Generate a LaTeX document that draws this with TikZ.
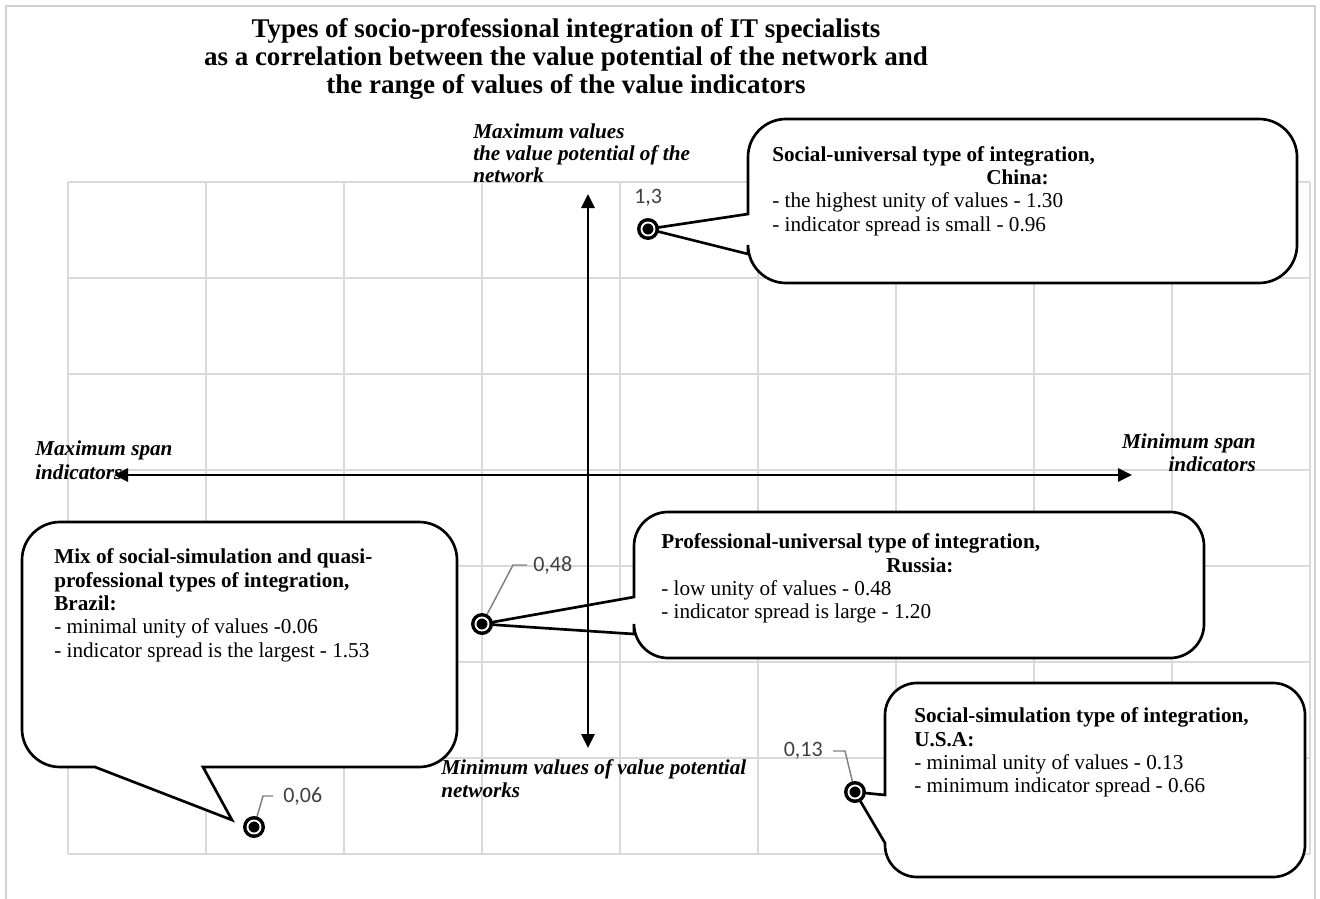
\documentclass[tikz,border=0pt]{standalone}
\usepackage{fontspec}
\setmainfont{Liberation Serif}
\newfontfamily\valfont{Carlito}
\usetikzlibrary{arrows.meta}

\definecolor{gridgray}{HTML}{D9D9D9}
\definecolor{framegray}{HTML}{D0D0D0}
\definecolor{valgray}{HTML}{404040}
\definecolor{leadgray}{HTML}{808080}

\newcommand{\txtsize}{\fontsize{15.9}{17.5}\selectfont}
\newcommand{\ttlsize}{\fontsize{20.25}{21}\selectfont}

% rounded box whose pointer leaves the left side:
% x0 y0 x1 y1 radius upper-y lower-y tip
\newcommand{\calloutLeft}[8]{%
  \draw[callout] (#1,{#2+#5}) .. controls (#1,{#2+0.448*#5}) and ({#1+0.448*#5},#2) .. ({#1+#5},#2)
    -- ({#3-#5},#2) .. controls ({#3-0.448*#5},#2) and (#3,{#2+0.448*#5}) .. (#3,{#2+#5})
    -- (#3,{#4-#5}) .. controls (#3,{#4-0.448*#5}) and ({#3-0.448*#5},#4) .. ({#3-#5},#4)
    -- ({#1+#5},#4) .. controls ({#1+0.448*#5},#4) and (#1,{#4-0.448*#5}) .. (#1,{#4-#5})
    -- (#1,#7) -- (#8) -- (#1,#6) -- cycle;}
% rounded box whose pointer leaves the bottom side:
% x0 y0 x1 y1 radius left-x right-x tip
\newcommand{\calloutBottom}[8]{%
  \draw[callout] (#1,{#2+#5}) .. controls (#1,{#2+0.448*#5}) and ({#1+0.448*#5},#2) .. ({#1+#5},#2)
    -- ({#3-#5},#2) .. controls ({#3-0.448*#5},#2) and (#3,{#2+0.448*#5}) .. (#3,{#2+#5})
    -- (#3,{#4-#5}) .. controls (#3,{#4-0.448*#5}) and ({#3-0.448*#5},#4) .. ({#3-#5},#4)
    -- (#7,#4) -- (#8) -- (#6,#4)
    -- ({#1+#5},#4) .. controls ({#1+0.448*#5},#4) and (#1,{#4-0.448*#5}) .. (#1,{#4-#5})
    -- cycle;}

\begin{document}
\begin{tikzpicture}[x=0.75pt, y=-0.75pt,
  gridline/.style={draw=gridgray, line width=1.2pt},
  frameline/.style={draw=framegray, line width=1.1pt},
  axis/.style={line width=2.2pt, {Triangle[length=10.5pt,width=9.75pt]}-{Triangle[length=10.5pt,width=9.75pt]}},
  callout/.style={draw=black, fill=white, line width=2pt, line join=miter, miter limit=10},
  boxtext/.style={anchor=north west, inner sep=0pt, align=left, font=\txtsize},
  axislabel/.style={inner sep=0pt, font=\txtsize\bfseries\itshape},
  marker/.style={circle, fill=black, inner sep=0pt, minimum size=16.5pt,
    path picture={\draw[white, line width=1.4pt] (path picture bounding box.center) circle[radius=4.9pt];}},
  val/.style={inner sep=0pt, text=valgray, font=\valfont\fontsize{16.5}{18}\selectfont},
  leader/.style={draw=leadgray, line width=1.1pt},
]
\useasboundingbox (0,0) rectangle (1320,899);

% chart area frame and grid
\draw[frameline] (6,899) -- (6,6) -- (1315,6) -- (1315,899);
\foreach \i in {0,...,9}
  \draw[gridline] ({68+138*\i},182) -- ({68+138*\i},854);
\foreach \j in {0,...,7}
  \draw[gridline] (68,{182+96*\j}) -- (1310,{182+96*\j});

% data points
\coordinate (pChina) at (648,229);
\coordinate (pRus) at (482,624);
\coordinate (pBra) at (254,827);
\coordinate (pUsa) at (855,792);
\coordinate (tipBra) at (232,820);

% callouts
\calloutLeft{748}{119}{1297}{283}{38}{214}{254}{pChina}
\calloutLeft{634}{512}{1204}{658}{34}{597}{634}{pRus}
\calloutLeft{885}{683}{1305}{877}{32}{795}{843}{pUsa}
\calloutBottom{22}{522}{457}{767}{38}{95}{203}{tipBra}

\node[boxtext] (tChina) at (772,146) {\textbf{Social-universal type of integration,}\\
  \hspace*{160.5pt}\textbf{China:}\\
  - the highest unity of values - 1.30\\
  - indicator spread is small - 0.96};
\node[boxtext] (tRus) at (661,533.5) {\textbf{Professional-universal type of integration,}\\
  \hspace*{168.75pt}\textbf{Russia:}\\
  - low unity of values - 0.48\\
  - indicator spread is large - 1.20};
\node[boxtext] (tUsa) at (914,707.5) {\textbf{Social-simulation type of integration,}\\
  \textbf{U.S.A:}\\
  - minimal unity of values - 0.13\\
  - minimum indicator spread - 0.66};
\node[boxtext] (tBra) at (54,548.5) {\textbf{Mix of social-simulation and quasi-}\\
  \textbf{professional types of integration,}\\
  \textbf{Brazil:}\\
  - minimal unity of values -0.06\\
  - indicator spread is the largest - 1.53};

% value labels and their leaders
\node[val, anchor=west] (lChina) at (634,198) {1,3};
\node[val, anchor=west] (lRus) at (533,565) {0,48};
\node[val, anchor=west] (lBra) at (283,796) {0,06};
\node[val, anchor=east] (lUsa) at (823,751) {0,13};
\draw[leader] (pRus) -- (513,565) -- ([xshift=-4.5pt]lRus.west);
\draw[leader] (pBra) -- (263,796) -- ([xshift=-7.5pt]lBra.west);
\draw[leader] (pUsa) -- (845,751) -- ([xshift=7.5pt]lUsa.east);

% markers
\node[marker] (mChina) at (pChina) {};
\node[marker] (mRus) at (pRus) {};
\node[marker] (mBra) at (pBra) {};
\node[marker] (mUsa) at (pUsa) {};

% axis captions
\node[axislabel, anchor=north west, align=left, font=\fontsize{15.9}{16.5}\selectfont\bfseries\itshape] (lblTop) at (473,124)
  {Maximum values\\the value potential of the\\network};
\node[axislabel, anchor=north west, align=left] (lblLeft) at (35,441) {Maximum span\\indicators};
\node[axislabel, anchor=north east, align=right] (lblRight) at (1256,433.5) {Minimum span\\indicators};
\node[axislabel, anchor=north west, align=left] (lblBottom) at (441,759) {Minimum values of value potential\\networks};

% axes
\coordinate (vTop) at (588,194);
\coordinate (vBot) at (588,748);
\coordinate (hLeft) at (114,475);
\coordinate (hRight) at (1132,475);
\draw[axis] (vBot) -- (vTop);
\draw[axis] (hLeft) -- (hRight);

% title
\node[anchor=north, align=center, inner sep=0pt, font=\ttlsize\bfseries] (title) at (566,18)
  {Types of socio-professional integration of IT specialists\\
   as a correlation between the value potential of the network and\\
   the range of values of the value indicators};
\end{tikzpicture}
\end{document}
